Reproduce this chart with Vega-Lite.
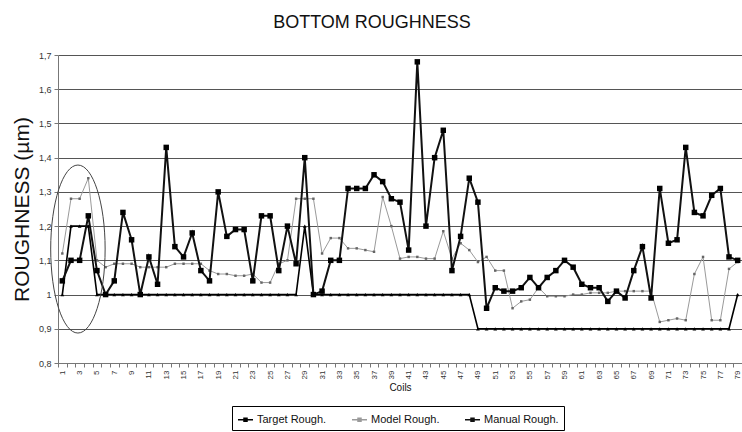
{
  "$schema": "https://vega.github.io/schema/vega-lite/v6.json",
  "width": 684,
  "height": 308,
  "autosize": {"type": "none"},
  "padding": {"left": 58, "top": 55, "right": 0, "bottom": 69},
  "background": "white",
  "config": {"font": "Liberation Sans", "view": {"stroke": null}, "axis": {"labelOverlap": false}},
  "title": {"text": "BOTTOM ROUGHNESS", "fontSize": 18, "fontWeight": "normal", "color": "#111", "anchor": "middle", "dx": -28, "offset": 19},
  "datasets": {
    "rough": [
      {"coil": 1, "Target": 1.0, "Model": 1.12, "Manual": 1.04},
      {"coil": 2, "Target": 1.2, "Model": 1.28, "Manual": 1.10},
      {"coil": 3, "Target": 1.2, "Model": 1.28, "Manual": 1.10},
      {"coil": 4, "Target": 1.2, "Model": 1.34, "Manual": 1.23},
      {"coil": 5, "Target": 1.0, "Model": 1.10, "Manual": 1.07},
      {"coil": 6, "Target": 1.0, "Model": 1.08, "Manual": 1.00},
      {"coil": 7, "Target": 1.0, "Model": 1.09, "Manual": 1.04},
      {"coil": 8, "Target": 1.0, "Model": 1.09, "Manual": 1.24},
      {"coil": 9, "Target": 1.0, "Model": 1.09, "Manual": 1.16},
      {"coil": 10, "Target": 1.0, "Model": 1.08, "Manual": 1.00},
      {"coil": 11, "Target": 1.0, "Model": 1.08, "Manual": 1.11},
      {"coil": 12, "Target": 1.0, "Model": 1.08, "Manual": 1.03},
      {"coil": 13, "Target": 1.0, "Model": 1.08, "Manual": 1.43},
      {"coil": 14, "Target": 1.0, "Model": 1.09, "Manual": 1.14},
      {"coil": 15, "Target": 1.0, "Model": 1.09, "Manual": 1.11},
      {"coil": 16, "Target": 1.0, "Model": 1.09, "Manual": 1.18},
      {"coil": 17, "Target": 1.0, "Model": 1.09, "Manual": 1.07},
      {"coil": 18, "Target": 1.0, "Model": 1.07, "Manual": 1.04},
      {"coil": 19, "Target": 1.0, "Model": 1.06, "Manual": 1.30},
      {"coil": 20, "Target": 1.0, "Model": 1.06, "Manual": 1.17},
      {"coil": 21, "Target": 1.0, "Model": 1.055, "Manual": 1.19},
      {"coil": 22, "Target": 1.0, "Model": 1.055, "Manual": 1.19},
      {"coil": 23, "Target": 1.0, "Model": 1.06, "Manual": 1.04},
      {"coil": 24, "Target": 1.0, "Model": 1.035, "Manual": 1.23},
      {"coil": 25, "Target": 1.0, "Model": 1.035, "Manual": 1.23},
      {"coil": 26, "Target": 1.0, "Model": 1.09, "Manual": 1.07},
      {"coil": 27, "Target": 1.0, "Model": 1.10, "Manual": 1.20},
      {"coil": 28, "Target": 1.0, "Model": 1.28, "Manual": 1.09},
      {"coil": 29, "Target": 1.2, "Model": 1.28, "Manual": 1.40},
      {"coil": 30, "Target": 1.0, "Model": 1.28, "Manual": 1.00},
      {"coil": 31, "Target": 1.0, "Model": 1.12, "Manual": 1.01},
      {"coil": 32, "Target": 1.0, "Model": 1.165, "Manual": 1.10},
      {"coil": 33, "Target": 1.0, "Model": 1.165, "Manual": 1.10},
      {"coil": 34, "Target": 1.0, "Model": 1.135, "Manual": 1.31},
      {"coil": 35, "Target": 1.0, "Model": 1.135, "Manual": 1.31},
      {"coil": 36, "Target": 1.0, "Model": 1.13, "Manual": 1.31},
      {"coil": 37, "Target": 1.0, "Model": 1.125, "Manual": 1.35},
      {"coil": 38, "Target": 1.0, "Model": 1.285, "Manual": 1.33},
      {"coil": 39, "Target": 1.0, "Model": 1.20, "Manual": 1.28},
      {"coil": 40, "Target": 1.0, "Model": 1.105, "Manual": 1.27},
      {"coil": 41, "Target": 1.0, "Model": 1.11, "Manual": 1.13},
      {"coil": 42, "Target": 1.0, "Model": 1.11, "Manual": 1.68},
      {"coil": 43, "Target": 1.0, "Model": 1.105, "Manual": 1.20},
      {"coil": 44, "Target": 1.0, "Model": 1.105, "Manual": 1.40},
      {"coil": 45, "Target": 1.0, "Model": 1.185, "Manual": 1.48},
      {"coil": 46, "Target": 1.0, "Model": 1.105, "Manual": 1.07},
      {"coil": 47, "Target": 1.0, "Model": 1.15, "Manual": 1.17},
      {"coil": 48, "Target": 1.0, "Model": 1.13, "Manual": 1.34},
      {"coil": 49, "Target": 0.9, "Model": 1.095, "Manual": 1.27},
      {"coil": 50, "Target": 0.9, "Model": 1.11, "Manual": 0.96},
      {"coil": 51, "Target": 0.9, "Model": 1.07, "Manual": 1.02},
      {"coil": 52, "Target": 0.9, "Model": 1.07, "Manual": 1.01},
      {"coil": 53, "Target": 0.9, "Model": 0.96, "Manual": 1.01},
      {"coil": 54, "Target": 0.9, "Model": 0.98, "Manual": 1.02},
      {"coil": 55, "Target": 0.9, "Model": 0.985, "Manual": 1.05},
      {"coil": 56, "Target": 0.9, "Model": 1.02, "Manual": 1.02},
      {"coil": 57, "Target": 0.9, "Model": 0.995, "Manual": 1.05},
      {"coil": 58, "Target": 0.9, "Model": 0.995, "Manual": 1.07},
      {"coil": 59, "Target": 0.9, "Model": 0.995, "Manual": 1.10},
      {"coil": 60, "Target": 0.9, "Model": 1.0, "Manual": 1.08},
      {"coil": 61, "Target": 0.9, "Model": 1.0, "Manual": 1.03},
      {"coil": 62, "Target": 0.9, "Model": 1.005, "Manual": 1.02},
      {"coil": 63, "Target": 0.9, "Model": 1.005, "Manual": 1.02},
      {"coil": 64, "Target": 0.9, "Model": 1.005, "Manual": 0.98},
      {"coil": 65, "Target": 0.9, "Model": 1.01, "Manual": 1.01},
      {"coil": 66, "Target": 0.9, "Model": 1.01, "Manual": 0.99},
      {"coil": 67, "Target": 0.9, "Model": 1.01, "Manual": 1.07},
      {"coil": 68, "Target": 0.9, "Model": 1.01, "Manual": 1.14},
      {"coil": 69, "Target": 0.9, "Model": 1.01, "Manual": 0.99},
      {"coil": 70, "Target": 0.9, "Model": 0.92, "Manual": 1.31},
      {"coil": 71, "Target": 0.9, "Model": 0.925, "Manual": 1.15},
      {"coil": 72, "Target": 0.9, "Model": 0.93, "Manual": 1.16},
      {"coil": 73, "Target": 0.9, "Model": 0.925, "Manual": 1.43},
      {"coil": 74, "Target": 0.9, "Model": 1.06, "Manual": 1.24},
      {"coil": 75, "Target": 0.9, "Model": 1.11, "Manual": 1.23},
      {"coil": 76, "Target": 0.9, "Model": 0.925, "Manual": 1.29},
      {"coil": 77, "Target": 0.9, "Model": 0.925, "Manual": 1.31},
      {"coil": 78, "Target": 0.9, "Model": 1.075, "Manual": 1.11},
      {"coil": 79, "Target": 1.0, "Model": 1.095, "Manual": 1.10}
    ],
    "ellipse": [{"coil": 2.8, "value": 1.133}]
  },
  "encoding": {
    "x": {
      "field": "coil", "type": "quantitative",
      "scale": {"domain": [0.5, 79.5], "nice": false, "zero": false},
      "axis": {
        "title": "Coils", "titleFontSize": 10, "titleFontWeight": "normal", "titleColor": "#111", "titlePadding": 4,
        "values": [1,2,3,4,5,6,7,8,9,10,11,12,13,14,15,16,17,18,19,20,21,22,23,24,25,26,27,28,29,30,31,32,33,34,35,36,37,38,39,40,41,42,43,44,45,46,47,48,49,50,51,52,53,54,55,56,57,58,59,60,61,62,63,64,65,66,67,68,69,70,71,72,73,74,75,76,77,78,79],
        "labelExpr": "datum.value % 2 == 1 ? datum.label : ''",
        "labelAngle": -90, "labelFontSize": 8, "labelColor": "#333", "labelOverlap": false, "labelFlush": false,
        "tickOffset": -4.33, "labelOffset": 4.33, "tickSize": 4, "tickColor": "#777", "domainColor": "#777",
        "grid": false, "labelPadding": 3
      }
    },
    "y": {
      "field": "value", "type": "quantitative",
      "scale": {"domain": [0.8, 1.7], "nice": false, "zero": false},
      "axis": {
        "title": "ROUGHNESS (µm)", "titleFontSize": 21, "titleFontWeight": "normal", "titleColor": "#111", "titlePadding": 6,
        "values": [0.8, 0.9, 1.0, 1.1, 1.2, 1.3, 1.4, 1.5, 1.6, 1.7],
        "labelExpr": "replace(format(datum.value, '.1~f'), '.', ',')",
        "labelFontSize": 9, "labelColor": "#333", "labelOverlap": false, "tickSize": 4, "tickColor": "#777", "domainColor": "#777",
        "gridColor": "#555", "gridWidth": 1.2, "labelPadding": 3
      }
    }
  },
  "layer": [
    {
      "data": {"name": "rough"},
      "transform": [{"fold": ["Target", "Model", "Manual"], "as": ["series", "value"]}, {"filter": "datum.series == 'Model'"}],
      "layer": [
        {
          "mark": {"type": "line", "strokeWidth": 1},
          "encoding": {
            "color": {
              "field": "series", "type": "nominal",
              "scale": {"domain": ["Target", "Model", "Manual"], "range": ["#000000", "#9a9a9a", "#111111"]},
              "legend": {
                "title": null, "orient": "none", "legendX": 174, "legendY": 351, "direction": "horizontal",
                "labelExpr": "datum.label + ' Rough.'", "labelFontSize": 11, "labelColor": "#111",
                "symbolType": "M-1,0L1,0M-0.2,-0.2L0.2,-0.2L0.2,0.2L-0.2,0.2Z", "symbolSize": 225, "symbolStrokeWidth": 1.5,
                "strokeColor": "#000", "padding": 5, "columnPadding": 22, "labelOffset": 3
              }
            }
          }
        },
        {"mark": {"type": "point", "shape": "square", "size": 6, "filled": true, "color": "#666", "opacity": 1}}
      ]
    },
    {
      "data": {"name": "rough"},
      "transform": [{"fold": ["Target", "Model", "Manual"], "as": ["series", "value"]}, {"filter": "datum.series == 'Target'"}],
      "layer": [
        {
          "mark": {"type": "line", "strokeWidth": 1.6},
          "encoding": {"color": {"field": "series", "type": "nominal"}}
        },
        {"mark": {"type": "point", "shape": "triangle-up", "size": 14, "filled": true, "color": "#000", "opacity": 1}}
      ]
    },
    {
      "data": {"name": "rough"},
      "transform": [{"fold": ["Target", "Model", "Manual"], "as": ["series", "value"]}, {"filter": "datum.series == 'Manual'"}],
      "layer": [
        {
          "mark": {"type": "line", "strokeWidth": 2},
          "encoding": {"color": {"field": "series", "type": "nominal"}}
        },
        {"mark": {"type": "point", "shape": "square", "size": 30, "filled": true, "color": "#000", "opacity": 1}}
      ]
    },
    {
      "data": {"name": "ellipse"},
      "mark": {
        "type": "point",
        "shape": "M0,-1C0.179,-1 0.324,-0.552 0.324,0C0.324,0.552 0.179,1 0,1C-0.179,1 -0.324,0.552 -0.324,0C-0.324,-0.552 -0.179,-1 0,-1Z",
        "size": 28224, "filled": false, "stroke": "#444", "strokeWidth": 1, "opacity": 1
      }
    }
  ]
}
